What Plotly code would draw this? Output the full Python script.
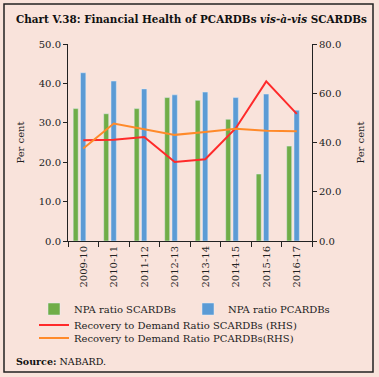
import plotly.graph_objects as go

categories = ["2009-10", "2010-11", "2011-12", "2012-13", "2013-14", "2014-15", "2015-16", "2016-17"]
npa_scardbs = [33.6, 32.3, 33.6, 36.4, 35.7, 30.9, 17.0, 24.1]
npa_pcardbs = [42.7, 40.6, 38.6, 37.1, 37.8, 36.4, 37.3, 33.2]
rdr_scardbs = [40.9, 41.1, 42.2, 32.1, 33.2, 45.8, 64.8, 51.6]
rdr_pcardbs = [37.6, 47.7, 45.4, 43.1, 44.3, 45.6, 44.8, 44.6]

BG = "#F9E3DB"
FONT = "DejaVu Serif"

fig = go.Figure()
fig.add_trace(go.Bar(x=categories, y=npa_scardbs, name="NPA ratio SCARDBs",
                     marker_color="#70AD47", width=0.165, offset=-0.33,
                     legend="legend"))
fig.add_trace(go.Bar(x=categories, y=npa_pcardbs, name="NPA ratio PCARDBs",
                     marker_color="#5B9BD5", width=0.175, offset=-0.09,
                     legend="legend"))
fig.add_trace(go.Scatter(x=categories, y=rdr_scardbs, yaxis="y2", mode="lines",
                         name="Recovery to Demand Ratio SCARDBs (RHS)",
                         line=dict(color="#FF2A2A", width=2), legend="legend2"))
fig.add_trace(go.Scatter(x=categories, y=rdr_pcardbs, yaxis="y2", mode="lines",
                         name="Recovery to Demand Ratio PCARDBs(RHS)",
                         line=dict(color="#FF8A2A", width=2), legend="legend3"))

L, R, T, B = 68, 67, 44, 136
W, H = 379, 377
pw, ph = W - L - R, H - T - B

def px(xp):
    return (xp - L) / pw

def py(yp):
    return (H - B - yp) / ph

axis_font = dict(family=FONT, size=10, color="#222")

fig.update_layout(
    width=W, height=H,
    margin=dict(l=L, r=R, t=T, b=B),
    paper_bgcolor=BG, plot_bgcolor=BG,
    barmode="overlay",
    font=dict(family=FONT, size=10, color="#222"),
    showlegend=True,
    xaxis=dict(type="category", tickangle=-90, tickson="boundaries",
               ticks="outside", ticklen=5, tickcolor="#222",
               showline=True, linecolor="#222", linewidth=1,
               showgrid=False, tickfont=axis_font),
    yaxis=dict(range=[0, 50], dtick=10, tickformat=".1f", ticks="outside",
               ticklen=4, tickcolor="#222", showline=True, linecolor="#222",
               linewidth=1, showgrid=False, zeroline=False, tickfont=axis_font,
               title=dict(text="Per cent", font=axis_font, standoff=12)),
    yaxis2=dict(range=[0, 80], dtick=20, tickformat=".1f", ticks="outside",
                ticklen=4, tickcolor="#222", showline=True, linecolor="#222",
                linewidth=1, showgrid=False, zeroline=False, tickfont=axis_font,
                overlaying="y", side="right",
                title=dict(text="Per cent", font=axis_font, standoff=16)),
    legend=dict(orientation="h", x=px(34), xanchor="left", y=py(309), yanchor="middle",
                entrywidth=109, entrywidthmode="pixels",
                bgcolor="rgba(0,0,0,0)", font=dict(family=FONT, size=10, color="#222")),
    legend2=dict(orientation="h", x=px(34), xanchor="left", y=py(325), yanchor="middle",
                 bgcolor="rgba(0,0,0,0)", font=dict(family=FONT, size=10, color="#222")),
    legend3=dict(orientation="h", x=px(34), xanchor="left", y=py(338), yanchor="middle",
                 bgcolor="rgba(0,0,0,0)", font=dict(family=FONT, size=10, color="#222")),
    annotations=[
        dict(text="<b>Chart V.38: Financial Health of PCARDBs <i>vis-à-vis</i> SCARDBs</b>",
             xref="paper", yref="paper", x=px(14), y=py(19), xanchor="left", yanchor="middle",
             showarrow=False, font=dict(family=FONT, size=10.4, color="#111")),
        dict(text="<b>Source:</b> NABARD.",
             xref="paper", yref="paper", x=px(14), y=py(361), xanchor="left", yanchor="middle",
             showarrow=False, font=dict(family=FONT, size=9.5, color="#111")),
    ],
    shapes=[
        dict(type="rect", xref="paper", yref="paper",
             x0=px(4), x1=px(373), y0=py(372), y1=py(4),
             line=dict(color="#222", width=1.5), fillcolor="rgba(0,0,0,0)", layer="above"),
    ],
)

fig.write_html("out.html", config={"displayModeBar": False},
               post_script="document.body.style.margin='0';document.body.style.padding='0';")
